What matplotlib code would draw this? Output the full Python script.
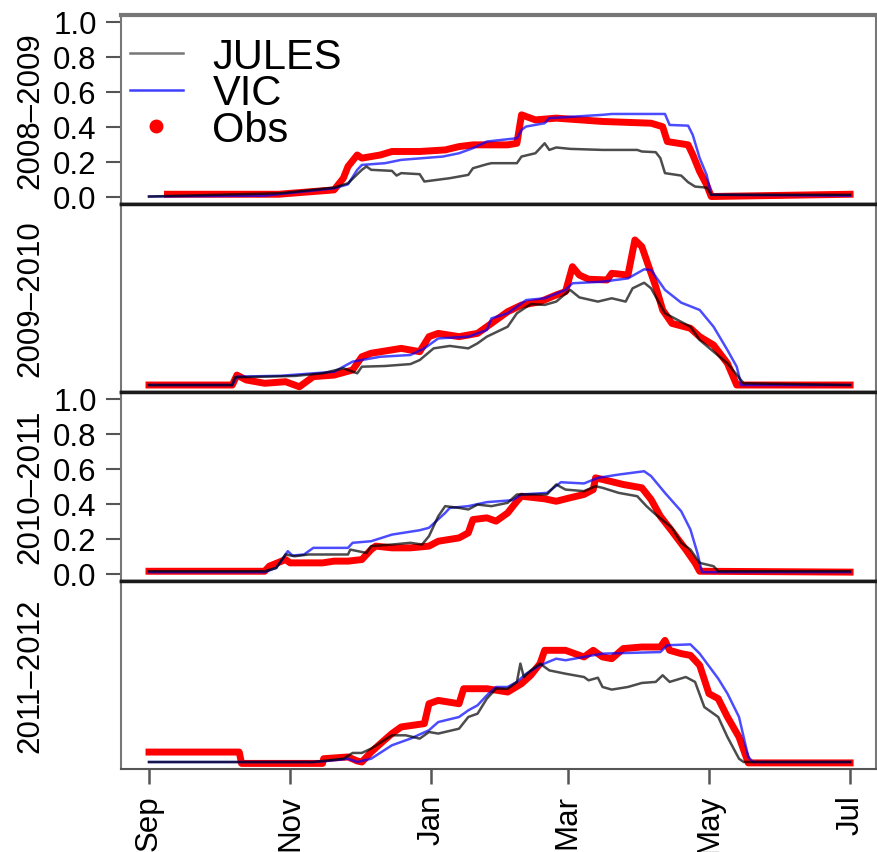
import matplotlib.pyplot as plt
from matplotlib.lines import Line2D

plt.rcParams['font.family'] = ['Liberation Sans', 'DejaVu Sans']

# x = days since 1 Sep, y = snow fraction
seasons = ['2008–2009', '2009–2010', '2010–2011', '2011–2012']
month_days = [0, 61, 122, 181, 242, 303]
month_labels = ['Sep', 'Nov', 'Jan', 'Mar', 'May', 'Jul']

# ---- 2008-2009
jules_d_1 = [0, 57, 80, 86, 92, 94, 96, 105, 107, 109, 117, 119, 130, 138, 140, 146, 148, 159, 161, 167,
             171, 173, 176, 182, 196, 211, 213, 219, 221, 223, 230, 233, 236, 241, 243, 303]
jules_v_1 = [0.0, 0.019, 0.051, 0.076, 0.153, 0.172, 0.153, 0.147, 0.12, 0.134, 0.128, 0.086, 0.105, 0.124,
             0.162, 0.185, 0.191, 0.191, 0.229, 0.248, 0.305, 0.267, 0.281, 0.273, 0.267, 0.267, 0.258, 0.254,
             0.22, 0.134, 0.12, 0.082, 0.057, 0.051, 0.01, 0.01]
vic_d_1 = [0, 50, 80, 86, 90, 92, 102, 109, 127, 134, 140, 146, 159, 161, 163, 171, 173, 196, 200, 223,
           225, 233, 235, 238, 241, 243, 303]
vic_v_1 = [0.0, 0.005, 0.047, 0.07, 0.153, 0.181, 0.191, 0.21, 0.229, 0.248, 0.277, 0.315, 0.334, 0.382,
           0.401, 0.42, 0.449, 0.468, 0.473, 0.473, 0.41, 0.406, 0.353, 0.22, 0.124, 0.01, 0.005]
obs_d_1 = [8, 56, 80, 84, 86, 90, 92, 100, 105, 117, 128, 134, 140, 155, 159, 161, 167, 176, 196, 217,
           222, 224, 233, 235, 238, 241, 243, 303]
obs_v_1 = [0.013, 0.013, 0.038, 0.105, 0.172, 0.238, 0.22, 0.238, 0.258, 0.258, 0.267, 0.286, 0.296, 0.296,
           0.305, 0.468, 0.439, 0.449, 0.43, 0.42, 0.40, 0.315, 0.296, 0.24, 0.143, 0.067, 0.0, 0.013]

# ---- 2009-2010
jules_d_2 = [0, 36, 37, 63, 75, 84, 90, 92, 102, 113, 117, 123, 130, 138, 142, 146, 155, 159, 165, 171,
             176, 182, 186, 194, 200, 206, 209, 214, 217, 223, 234, 238, 244, 250, 257, 303]
jules_v_2 = [0.0, 0.0, 0.044, 0.052, 0.067, 0.096, 0.067, 0.105, 0.109, 0.12, 0.143, 0.21, 0.224, 0.21,
             0.239, 0.277, 0.334, 0.411, 0.464, 0.459, 0.478, 0.545, 0.502, 0.478, 0.497, 0.478, 0.554,
             0.586, 0.554, 0.411, 0.334, 0.258, 0.191, 0.124, 0.01, 0.0]
vic_d_2 = [0, 36, 38, 57, 71, 80, 88, 100, 113, 119, 125, 138, 146, 148, 155, 163, 171, 180, 183, 196,
           207, 214, 217, 223, 230, 238, 244, 250, 254, 256, 303]
vic_v_2 = [0.0, 0.0, 0.048, 0.053, 0.067, 0.076, 0.134, 0.162, 0.172, 0.21, 0.267, 0.277, 0.315, 0.382,
           0.411, 0.487, 0.497, 0.545, 0.583, 0.592, 0.611, 0.663, 0.659, 0.545, 0.472, 0.43, 0.334, 0.2,
           0.105, 0.0, 0.0]
obs_d_2 = [0, 36, 38, 42, 50, 59, 65, 71, 80, 88, 92, 96, 109, 117, 121, 125, 134, 142, 146, 155, 161,
           169, 176, 180, 183, 186, 190, 198, 200, 207, 210, 213, 216, 219, 222, 226, 234, 238, 244, 250,
           254, 303]
obs_v_2 = [0.0, 0.0, 0.057, 0.029, 0.01, 0.019, -0.01, 0.048, 0.057, 0.086, 0.162, 0.182, 0.21, 0.191,
           0.277, 0.296, 0.277, 0.296, 0.334, 0.42, 0.458, 0.477, 0.516, 0.535, 0.678, 0.63, 0.606, 0.602,
           0.64, 0.63, 0.831, 0.793, 0.678, 0.564, 0.43, 0.353, 0.325, 0.277, 0.229, 0.124, 0.0, 0.0]

# ---- 2010-2011
jules_d_3 = [0, 50, 55, 59, 63, 69, 86, 87, 94, 96, 105, 113, 118, 121, 125, 128, 134, 138, 142, 148,
             155, 159, 172, 176, 180, 188, 193, 196, 203, 211, 215, 219, 226, 230, 234, 238, 244, 246, 303]
jules_v_3 = [0.013, 0.013, 0.032, 0.109, 0.099, 0.109, 0.109, 0.137, 0.118, 0.157, 0.166, 0.176, 0.166,
             0.214, 0.328, 0.386, 0.376, 0.367, 0.395, 0.386, 0.405, 0.453, 0.453, 0.51, 0.481, 0.472, 0.5,
             0.491, 0.462, 0.443, 0.386, 0.338, 0.262, 0.176, 0.137, 0.061, 0.042, 0.013, 0.013]
vic_d_3 = [0, 50, 55, 60, 62, 67, 71, 86, 88, 96, 105, 117, 121, 128, 130, 138, 146, 157, 161, 172, 178,
           188, 194, 203, 214, 217, 223, 230, 234, 237, 239, 303]
vic_v_3 = [0.008, 0.008, 0.032, 0.128, 0.103, 0.109, 0.147, 0.147, 0.176, 0.185, 0.223, 0.248, 0.262,
           0.347, 0.376, 0.386, 0.409, 0.42, 0.453, 0.462, 0.523, 0.516, 0.548, 0.567, 0.586, 0.558, 0.462,
           0.357, 0.252, 0.118, 0.008, 0.008]
obs_d_3 = [0, 50, 52, 59, 61, 75, 80, 86, 92, 96, 98, 105, 113, 121, 125, 134, 138, 140, 146, 150, 155,
           159, 161, 171, 176, 182, 188, 192, 193, 196, 205, 213, 217, 221, 226, 232, 236, 238, 303]
obs_v_3 = [0.013, 0.013, 0.042, 0.08, 0.061, 0.061, 0.071, 0.071, 0.08, 0.137, 0.157, 0.147, 0.147,
           0.157, 0.185, 0.204, 0.233, 0.309, 0.319, 0.3, 0.347, 0.414, 0.443, 0.428, 0.414, 0.434, 0.453,
           0.481, 0.548, 0.539, 0.51, 0.491, 0.424, 0.328, 0.243, 0.137, 0.061, 0.013, 0.008]

# ---- 2011-2012
jules_d_4 = [0, 71, 75, 84, 88, 92, 96, 105, 111, 117, 121, 125, 134, 138, 142, 146, 150, 155, 159, 160.5,
             162, 165, 169, 173, 180, 188, 190, 194, 196, 200, 207, 213, 219, 222, 225, 232, 236, 240, 246,
             250, 255, 257, 303]
jules_v_4 = [0.0, 0.0, 0.006, 0.019, 0.052, 0.052, 0.077, 0.153, 0.153, 0.134, 0.172, 0.163, 0.191, 0.258,
             0.277, 0.363, 0.42, 0.42, 0.459, 0.564, 0.487, 0.525, 0.564, 0.525, 0.506, 0.487, 0.468, 0.483,
             0.43, 0.415, 0.43, 0.453, 0.459, 0.497, 0.459, 0.487, 0.459, 0.315, 0.258, 0.143, 0.019, 0.0, 0.0]
vic_d_4 = [0, 71, 77, 86, 90, 96, 105, 113, 121, 125, 134, 138, 142, 146, 150, 155, 159, 163, 169, 176,
           180, 196, 221, 224, 234, 238, 246, 250, 255, 259, 261, 303]
vic_v_4 = [0.0, 0.0, 0.006, 0.019, 0.0, 0.019, 0.096, 0.134, 0.182, 0.229, 0.258, 0.296, 0.325, 0.382,
           0.43, 0.43, 0.459, 0.506, 0.554, 0.592, 0.583, 0.621, 0.63, 0.669, 0.674, 0.621, 0.478, 0.392,
           0.258, 0.029, 0.0, 0.0]
obs_d_4 = [0, 39, 40, 75, 75.5, 86, 90, 92, 96, 100, 105, 109, 119, 121, 125, 134, 136, 146, 155, 161,
           165, 169, 171, 180, 188, 192, 196, 200, 205, 213, 221, 223, 225, 230, 234, 238, 242, 246, 250,
           255, 259, 303]
obs_v_4 = [0.057, 0.057, -0.008, -0.008, 0.019, 0.029, 0.006, 0.0, 0.057, 0.105, 0.163, 0.201, 0.22,
           0.334, 0.353, 0.334, 0.42, 0.42, 0.401, 0.449, 0.497, 0.564, 0.64, 0.64, 0.602, 0.64, 0.602,
           0.592, 0.65, 0.659, 0.659, 0.697, 0.64, 0.621, 0.611, 0.554, 0.392, 0.363, 0.258, 0.143, -0.005,
           -0.005]

jules = [(jules_d_1, jules_v_1), (jules_d_2, jules_v_2), (jules_d_3, jules_v_3), (jules_d_4, jules_v_4)]
vic = [(vic_d_1, vic_v_1), (vic_d_2, vic_v_2), (vic_d_3, vic_v_3), (vic_d_4, vic_v_4)]
obs = [(obs_d_1, obs_v_1), (obs_d_2, obs_v_2), (obs_d_3, obs_v_3), (obs_d_4, obs_v_4)]

jules_col = (0, 0, 0, 0.7)
vic_col = (0, 0, 1, 0.7)
tick_col = '#555555'

W, H = 877, 853
fig = plt.figure(figsize=(W / 100, H / 100), dpi=100)
left, right, top0, ph = 121, 876, 16, 188.5

for i in range(4):
    top = top0 + i * ph
    ax = fig.add_axes([left / W, 1 - (top + ph) / H, (right - left) / W, ph / H])

    ax.plot(*obs[i], color='red', lw=5, zorder=2)
    ax.plot(*vic[i], color=vic_col, lw=1.8, zorder=3)
    ax.plot(*jules[i], color=jules_col, lw=1.8, zorder=4)

    ax.set_xlim(-12.1, 314.2)
    ax.set_ylim(-0.04, 1.04)

    for s in ['left', 'right']:
        ax.spines[s].set_color('#777777')
        ax.spines[s].set_linewidth(1.5)
    ax.spines['top'].set_color('#1a1a1a')
    ax.spines['top'].set_linewidth(2.5)
    ax.spines['bottom'].set_color('#1a1a1a')
    ax.spines['bottom'].set_linewidth(2.5)
    if i == 0:
        ax.spines['top'].set_color('#777777')
        ax.spines['top'].set_linewidth(3)
    if i == 3:
        ax.spines['bottom'].set_color('#555555')
        ax.spines['bottom'].set_linewidth(1.5)

    ax.set_yticks([0, 0.2, 0.4, 0.6, 0.8, 1.0])
    ax.set_yticklabels(['0.0', '0.2', '0.4', '0.6', '0.8', '1.0'])
    if i % 2 == 0:
        ax.tick_params(axis='y', left=True, right=False, labelleft=True, labelright=False)
    else:
        ax.tick_params(axis='y', left=False, right=True, labelleft=False, labelright=False)
    ax.tick_params(axis='y', direction='out', length=10.5, width=1.5, color=tick_col,
                   pad=7, labelsize=22.5)

    ax.set_xticks(month_days)
    if i == 3:
        ax.set_xticklabels(month_labels)
        ax.tick_params(axis='x', direction='out', length=11, width=1.8, color=tick_col,
                       pad=7, labelsize=22.5, labelrotation=90)
    else:
        ax.tick_params(axis='x', bottom=False, labelbottom=False)

    ax.text(-0.1205, 0.5, seasons[i], transform=ax.transAxes, rotation=90,
            ha='center', va='center', fontsize=22.5)

    if i == 0:
        handles = [Line2D([], [], color='#777777', lw=1.8),
                   Line2D([], [], color=(0.25, 0.25, 1), lw=1.8),
                   Line2D([], [], ls='none', marker='o', color='red', ms=9)]
        ax.legend(handles, ['JULES', 'VIC', 'Obs'], loc='upper left',
                  bbox_to_anchor=(9 / 755, 0.885), frameon=False, fontsize=30,
                  handlelength=1.27, handletextpad=0.71, labelspacing=-0.08,
                  borderpad=0, borderaxespad=0)

fig.savefig('out.png', dpi=100)
